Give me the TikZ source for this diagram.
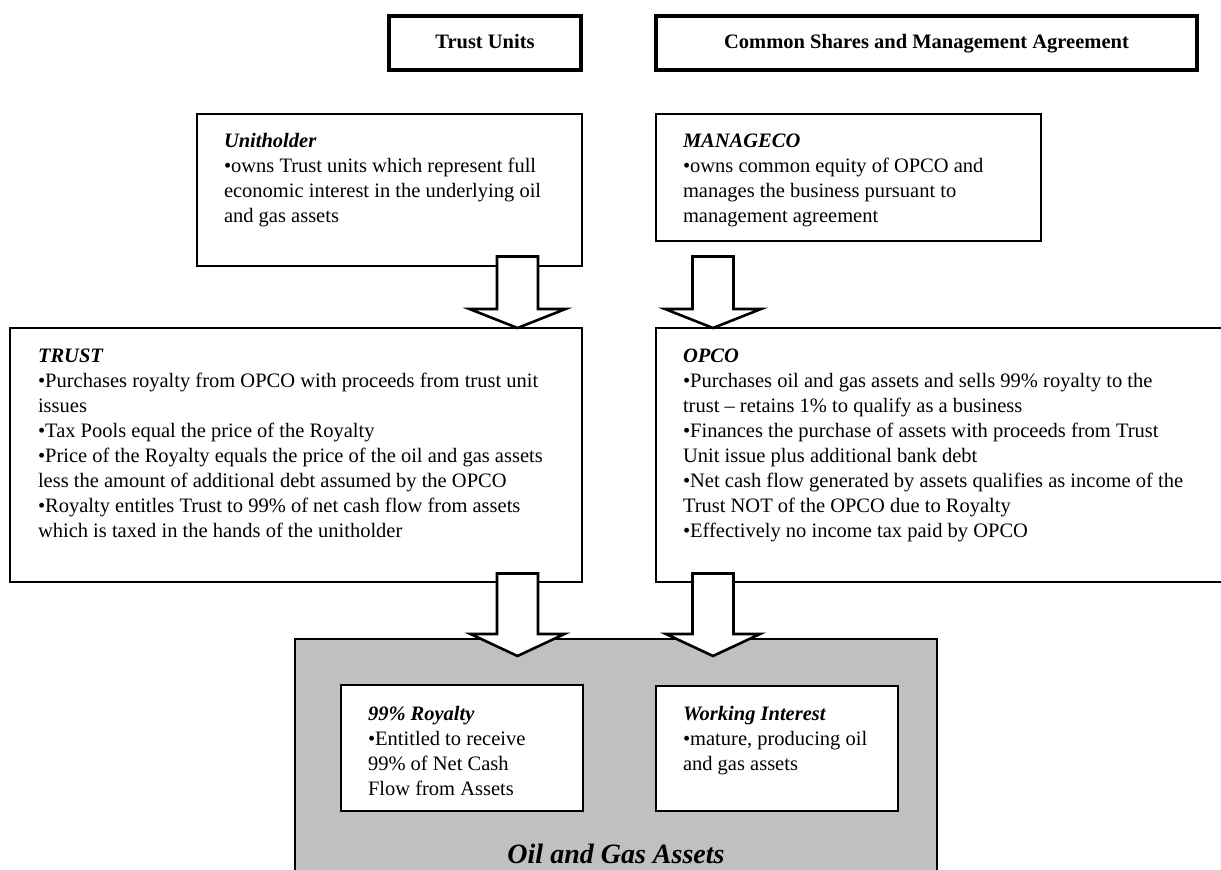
\documentclass[tikz,border=0pt]{standalone}
\usepackage{fontspec}
\setmainfont{Liberation Serif}
\usetikzlibrary{calc}
\definecolor{oilgray}{HTML}{C0C0C0}
\newcommand{\bodyfnt}{\fontsize{20.5pt}{25pt}\selectfont}
\newcommand{\hd}[1]{\textbf{\textit{#1}}}
\newcommand{\blkarrow}[4]{%
  \filldraw[blockarr] ($(#1)+(-20.5,0)$) -- ($(#2)+(-20.5,-#3)$) -- ($(#2)+(-#4,-#3)$) -- (#2)
    -- ($(#2)+(#4,-#3)$) -- ($(#2)+(20.5,-#3)$) -- ($(#1)+(20.5,0)$) -- cycle;}
\tikzset{
  thinbox/.style={draw=black, line width=2.6pt, fill=white, outer sep=0pt, inner sep=0pt, anchor=north west},
  thickbox/.style={draw=black, line width=4.5pt, fill=white, outer sep=0pt, inner sep=0pt, anchor=north west, font=\bodyfnt\bfseries, text height=14pt, text depth=4pt},
  oilbox/.style={draw=black, line width=2.2pt, fill=oilgray, outer sep=0pt, inner sep=0pt, anchor=north west},
  txt/.style={anchor=base west, inner sep=0pt, outer sep=0pt, font=\bodyfnt},
  blockarr/.style={draw=black, fill=white, line width=2.6pt, line join=miter}
}
\begin{document}
\begin{tikzpicture}[x=1pt,y=-1pt]
\useasboundingbox (0,0) rectangle (1221,870);
\fill[white] (0,0) rectangle (1221,870);
\clip (0,0) rectangle (1221,870);

% header boxes
\node[thickbox, minimum width=192pt, minimum height=54pt] (tu) at (389,16) {Trust Units};
\node[thickbox, minimum width=541pt, minimum height=54pt] (cs) at (656,16) {Common Shares and Management Agreement};

% upper boxes
\node[thinbox, minimum width=385pt, minimum height=152pt] (uh) at (197,114) {};
\node[txt] (uhtxt) at (224,147) {\parbox[t]{350pt}{\raggedright\hd{Unitholder}\\
•owns Trust units which represent full\\
economic interest in the underlying oil\\
and gas assets}};

\node[thinbox, minimum width=385pt, minimum height=127pt] (mg) at (656,114) {};
\node[txt] (mgtxt) at (683,147) {\parbox[t]{350pt}{\raggedright\hd{MANAGECO}\\
•owns common equity of OPCO and\\
manages the business pursuant to\\
management agreement}};

% middle boxes
\node[thinbox, minimum width=572pt, minimum height=254pt] (trust) at (10,328) {};
\node[txt] (trusttxt) at (38,362) {\parbox[t]{540pt}{\raggedright\hd{TRUST}\\
•Purchases royalty from OPCO with proceeds from trust unit\\
issues\\
•Tax Pools equal the price of the Royalty\\
•Price of the Royalty equals the price of the oil and gas assets\\
less the amount of additional debt assumed by the OPCO\\
•Royalty entitles Trust to 99\% of net cash flow from assets\\
which is taxed in the hands of the unitholder}};

\node[thinbox, minimum width=590pt, minimum height=254pt] (opco) at (656,328) {};
\node[txt] (opcotxt) at (683,362) {\parbox[t]{540pt}{\raggedright\hd{OPCO}\\
•Purchases oil and gas assets and sells 99\% royalty to the\\
trust – retains 1\% to qualify as a business\\
•Finances the purchase of assets with proceeds from Trust\\
Unit issue plus additional bank debt\\
•Net cash flow generated by assets qualifies as income of the\\
Trust NOT of the OPCO due to Royalty\\
•Effectively no income tax paid by OPCO}};

% oil and gas assets
\node[oilbox, minimum width=642pt, minimum height=260pt] (oil) at (295,639) {};
\node[thinbox, minimum width=242pt, minimum height=126pt] (roy) at (341,685) {};
\node[txt] (roytxt) at (368,720) {\parbox[t]{220pt}{\raggedright\hd{99\% Royalty}\\
•Entitled to receive\\
99\% of Net Cash\\
Flow from Assets}};
\node[thinbox, minimum width=242pt, minimum height=125pt] (wi) at (656,686) {};
\node[txt] (witxt) at (683,720) {\parbox[t]{220pt}{\raggedright\hd{Working Interest}\\
•mature, producing oil\\
and gas assets}};
\node[anchor=base, inner sep=0pt, font=\fontsize{28pt}{30pt}\selectfont\bfseries\itshape] (oiltxt) at (616,863) {Oil and Gas Assets};

% block arrows
\coordinate (a1top) at (517.5,256.5);
\coordinate (a1tip) at (trust.north -| a1top);
\coordinate (a2top) at (713,256.5);
\coordinate (a2tip) at (opco.north -| a2top);
\coordinate (a3top) at (517.5,573.5);
\coordinate (a3tip) at (517.5,656);
\coordinate (a4top) at (713,573.5);
\coordinate (a4tip) at (713,656);
\blkarrow{a1top}{a1tip}{19}{48}
\blkarrow{a2top}{a2tip}{19}{48}
\blkarrow{a3top}{a3tip}{22}{47}
\blkarrow{a4top}{a4tip}{22}{47}
\end{tikzpicture}
\end{document}
